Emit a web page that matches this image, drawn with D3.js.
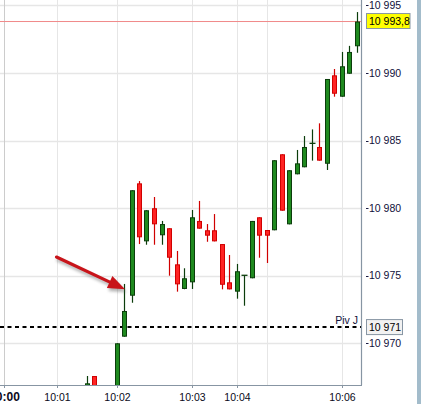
<!DOCTYPE html>
<html><head><meta charset="utf-8">
<script src="https://cdn.jsdelivr.net/npm/d3@7"></script>
<style>
html,body{margin:0;padding:0;background:#fff;}
svg{display:block;font-family:"Liberation Sans",Arial,sans-serif;}
</style></head>
<body>
<svg id="chart" width="421" height="404"></svg>
<script>
// ---- data ----
const slots  = [11,12,15,16,17,18,19,20,21,22,23,24,25,26,27,28,29,30,31,32,33,34,35,36,37,38,39,40,41,42,43,44,45,46,47];
const opens  = [10966.5,10967.58,10966.2,10970.49,10973.52,10981.83,10977.54,10979.99,10977.99,10978.51,10975.84,10974.02,10974.51,10979.05,10978.36,10978.36,10977.34,10974.51,10973.82,10975.03,10974.81,10979.32,10978.38,10978.36,10983.98,10978.80,10982.50,10983.02,10984.79,10984.52,10983.28,10989.82,10988.24,10989.94,10991.97];
const highs  = [10967.58,10967.58,10970.0,10974.39,10981.32,10982.0,10979.84,10980.82,10979.05,10978.51,10976.83,10975.55,10979.86,10980.53,10978.82,10979.56,10977.34,10976.53,10975.87,10975.03,10979.05,10979.32,10978.38,10983.54,10983.98,10982.80,10984.30,10985.33,10985.82,10986.27,10989.55,10990.29,10991.55,10992.0,10994.5];
const lows   = [10966.3,10966.3,10966.0,10970.49,10973.0,10977.34,10977.29,10977.29,10977.29,10975.0,10973.82,10974.0,10974.02,10978.48,10977.51,10977.54,10973.99,10973.99,10973.30,10972.78,10974.81,10976.33,10975.94,10978.36,10979.81,10978.80,10982.50,10983.02,10983.51,10983.51,10982.82,10988.24,10988.24,10989.94,10991.49];
const closes = [10967.04,10966.5,10970.0,10972.39,10981.32,10977.84,10979.84,10978.80,10978.82,10976.33,10974.36,10974.81,10979.32,10978.48,10977.96,10977.54,10974.33,10973.99,10975.33,10975.03,10979.05,10977.96,10977.96,10983.54,10979.81,10982.80,10983.31,10984.52,10984.79,10983.51,10989.55,10988.46,10990.49,10991.55,10993.8];

const timeSlots  = [0,7,15,25,31,35,45];
const timeLabels = ["10:00","10:01","10:02","10:03","10:04","","10:06"];
const priceTicks = [10970,10975,10980,10985,10990,10995];
const priceTickLabels = ["10 970","10 975","10 980","10 985","10 990","10 995"];
const lastPrice = 10993.8, lastPriceLabel = "10 993,8";
const pivotPrice = 10971.2, pivotLabel = "10 971", pivotName = "Piv J";
const arrowFrom = {slot: 7, price: 10976.38}, arrowTo = {slot: 16, price: 10974.0};

// ---- layout ----
const W = 421, H = 404;
const plotR = 361, plotB = 385;
const svg = d3.select("#chart");
const x = d3.scaleLinear().domain([0,47]).range([4,356.5]);
const y = d3.scaleLinear().domain([10970,10995]).range([343.3,5.3]);

const defs = svg.append("defs");
defs.append("clipPath").attr("id","clip").append("rect").attr("x",0).attr("y",0).attr("width",plotR).attr("height",plotB);
const f = defs.append("filter").attr("id","shadow").attr("x","-20%").attr("y","-20%").attr("width","140%").attr("height","160%");
f.append("feGaussianBlur").attr("stdDeviation",1.6);

svg.append("rect").attr("width",W).attr("height",H).attr("fill","#fff");
// right steel bar
svg.append("rect").attr("x",417).attr("y",0).attr("width",4).attr("height",H).attr("fill","#a3bccb");

const plot = svg.append("g").attr("clip-path","url(#clip)");

// grid
plot.selectAll(".hg").data(priceTicks).join("line")
  .attr("x1",0).attr("x2",plotR).attr("y1",d=>Math.round(y(d))+0.5).attr("y2",d=>Math.round(y(d))+0.5)
  .attr("stroke","#e6e6e6").attr("stroke-width",1.5);
plot.selectAll(".vg").data(timeSlots).join("line")
  .attr("y1",0).attr("y2",plotB).attr("x1",d=>Math.round(x(d))+0.5).attr("x2",d=>Math.round(x(d))+0.5)
  .attr("stroke",(d,i)=>i===0?"#cccccc":"#e6e6e6").attr("stroke-width",1);

// last price line
plot.append("line").attr("x1",0).attr("x2",plotR).attr("y1",y(lastPrice)).attr("y2",y(lastPrice))
  .attr("stroke","#f08a8a").attr("stroke-width",1);

// pivot line
plot.append("line").attr("x1",0).attr("x2",plotR).attr("y1",y(pivotPrice)).attr("y2",y(pivotPrice))
  .attr("stroke","#000").attr("stroke-width",2).attr("stroke-dasharray","4,3.5");

// candles
const candles = slots.map((s,i)=>({s,o:opens[i],h:highs[i],l:lows[i],c:closes[i]}));
const cg = plot.append("g");
candles.forEach(d=>{
  const cx = Math.round(x(d.s))+0.5;
  const up = d.c >= d.o;
  const doji = Math.abs(d.c-d.o) < 0.05;
  const wickCol = doji ? "#0b3d0b" : (up ? "#0b3d0b" : "#d00000");
  cg.append("line").attr("x1",cx).attr("x2",cx).attr("y1",y(d.h)).attr("y2",y(d.l))
    .attr("stroke",wickCol).attr("stroke-width",1.2);
  if (doji) {
    cg.append("line").attr("x1",cx-3).attr("x2",cx+3).attr("y1",y(d.c)).attr("y2",y(d.c))
      .attr("stroke",wickCol).attr("stroke-width",1.3);
  } else {
    const top = y(Math.max(d.o,d.c)), bot = y(Math.min(d.o,d.c));
    cg.append("rect").attr("x",cx-2).attr("width",4).attr("y",top+0.5).attr("height",Math.max(1,bot-top-1))
      .attr("fill",up?"#1f8a1f":"#ff2424").attr("stroke",up?"#0b3d0b":"#d00000").attr("stroke-width",1);
  }
});

// arrow annotation
function arrow(g, col, dx, dy){
  const x0 = x(arrowFrom.slot)+dx, y0 = y(arrowFrom.price)+dy;
  const x1 = x(arrowTo.slot)+1+dx, y1 = y(arrowTo.price)+dy;
  const ang = Math.atan2(y1-y0, x1-x0);
  const L = 17, hw = 6.5;
  const bx = x1 - L*Math.cos(ang), by = y1 - L*Math.sin(ang);
  const px = -Math.sin(ang), py = Math.cos(ang);
  g.append("line").attr("x1",x0).attr("y1",y0).attr("x2",bx+2*Math.cos(ang)).attr("y2",by+2*Math.sin(ang))
    .attr("stroke",col).attr("stroke-width",3.2).attr("stroke-linecap","round");
  g.append("path").attr("d",`M${x1},${y1}L${bx+px*hw},${by+py*hw}L${bx-px*hw},${by-py*hw}Z`).attr("fill",col);
}
const sh = svg.append("g").attr("filter","url(#shadow)").attr("opacity",0.45);
arrow(sh,"#555",1.5,3);
arrow(svg.append("g"),"#c8141a",0,0);

// axes lines
svg.append("line").attr("x1",plotR+0.5).attr("x2",plotR+0.5).attr("y1",0).attr("y2",plotB)
  .attr("stroke","#8795a3").attr("stroke-width",1.2);
svg.append("line").attr("x1",0).attr("x2",plotR+1).attr("y1",plotB+0.5).attr("y2",plotB+0.5)
  .attr("stroke","#8795a3").attr("stroke-width",1.2);

// y ticks & labels
const yl = svg.append("g");
priceTicks.forEach((p,i)=>{
  yl.append("line").attr("x1",366).attr("x2",368.5).attr("y1",Math.round(y(p))+0.5).attr("y2",Math.round(y(p))+0.5)
    .attr("stroke","#1a1a40").attr("stroke-width",1);
  yl.append("text").attr("x",369).attr("y",y(p)).attr("dy","0.36em")
    .attr("font-size","10.5px").attr("fill","#10103a").text(priceTickLabels[i]);
});

// x ticks & labels
timeSlots.forEach((s,i)=>{
  if(!timeLabels[i]) return;
  const tx = Math.round(x(s))+0.5;
  svg.append("line").attr("x1",tx).attr("x2",tx).attr("y1",plotB).attr("y2",plotB+3)
    .attr("stroke","#8795a3").attr("stroke-width",1);
  svg.append("text").attr("x",tx).attr("y",400.5).attr("text-anchor","middle")
    .attr("font-size", i===0?"12px":"10.5px").attr("font-weight", i===0?"bold":"normal")
    .attr("fill","#0a0a20").text(timeLabels[i]);
});

// last price box
const ly = y(lastPrice);
svg.append("rect").attr("x",366.5).attr("y",ly-8).attr("width",43.5).attr("height",15)
  .attr("fill","#ffff00").attr("stroke","#8795a3").attr("stroke-width",1);
svg.append("text").attr("x",369).attr("y",ly).attr("dy","0.36em").attr("font-size","10.5px").attr("fill","#000").text(lastPriceLabel);

// pivot label
const pyv = y(pivotPrice);
svg.append("rect").attr("x",366.5).attr("y",pyv-7.5).attr("width",36).attr("height",15)
  .attr("fill","#f2f2f2").attr("stroke","#8795a3").attr("stroke-width",1);
svg.append("text").attr("x",369).attr("y",pyv+0.5).attr("dy","0.36em").attr("font-size","10.5px").attr("fill","#000").text(pivotLabel);
svg.append("text").attr("x",358).attr("y",pyv-3.5).attr("text-anchor","end").attr("font-size","10.5px").attr("fill","#10103a").text(pivotName);
</script>
</body></html>
